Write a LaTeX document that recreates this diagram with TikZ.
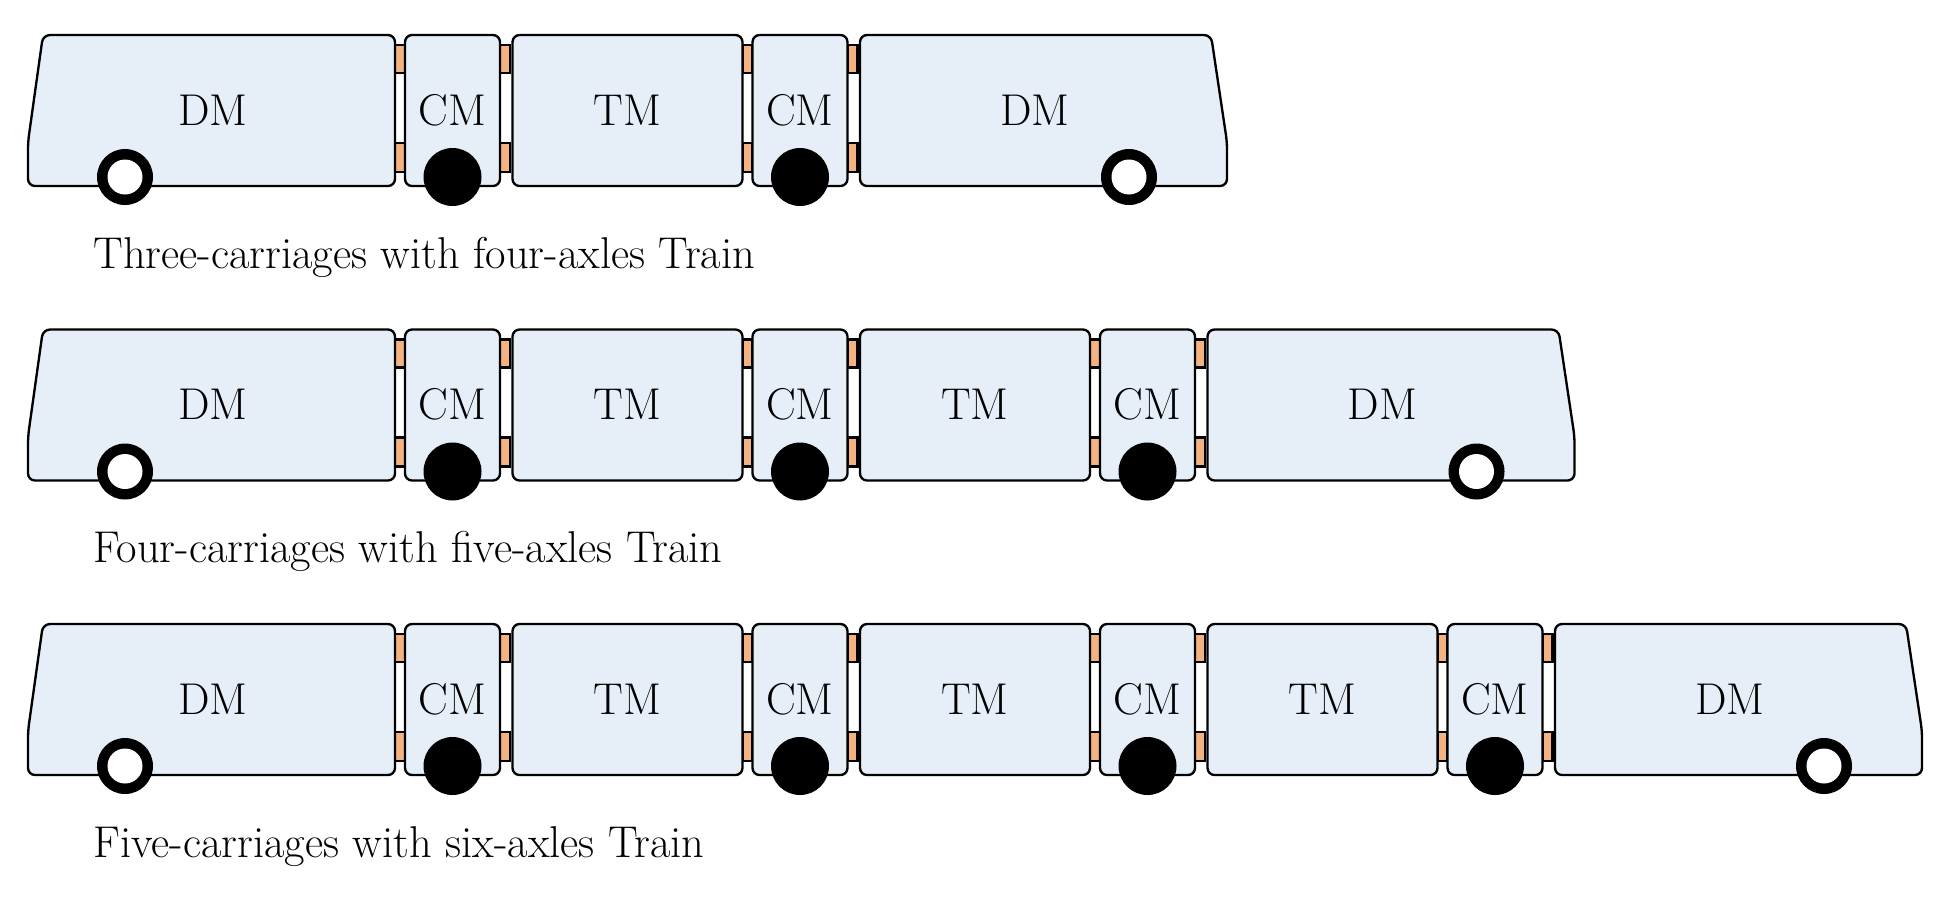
\documentclass[tikz,border=0pt]{standalone}
\usepackage{tikz}
\definecolor{carfill}{RGB}{230,238,247}
\definecolor{couplerfill}{RGB}{244,178,128}
\tikzset{
  car/.style={draw=black, line width=1pt, fill=carfill, rounded corners=3},
  coupler/.style={draw=black, line width=1pt, fill=couplerfill},
  label/.style={font=\fontsize{19}{22}\selectfont},
  caption/.style={font=\fontsize{19}{22}\selectfont, anchor=base west},
}
\begin{document}
\begin{tikzpicture}[x=0.015cm, y=-0.015cm]
 \useasboundingbox (0,0) rectangle (1948,905);
 \foreach \r/\k/\cap in {0/1/Three-carriages with four-axles Train,
                         1/2/Four-carriages with five-axles Train,
                         2/3/Five-carriages with six-axles Train} {
  \pgfmathsetmacro{\yo}{294.5*\r}
  \pgfmathsetmacro{\s}{512.5+347.5*\k}
  % couplers between cars
  \foreach \j in {0,...,\k} {
    \foreach \g in {395,500} {
      \draw[coupler] (\g+347.5*\j,\yo+45) rectangle (\g+347.5*\j+10,\yo+73);
      \draw[coupler] (\g+347.5*\j,\yo+143) rectangle (\g+347.5*\j+10,\yo+172);
    }
  }
  % head car
  \draw[car] (43,\yo+35) -- (395,\yo+35) -- (395,\yo+186) -- (28,\yo+186) -- (28,\yo+142) -- cycle;
  \node[label] (dmA\r) at (213,\yo+110) {DM};
  \fill (125,\yo+177) circle (28);
  \fill[white] (125,\yo+177) circle (17.5);
  % middle cars
  \foreach \j in {0,...,\k} {
    \draw[car] (405+347.5*\j,\yo+35) rectangle (500+347.5*\j,\yo+186);
    \node[label] (cm\r\j) at (452.5+347.5*\j,\yo+110) {CM};
    \fill (452.5+347.5*\j,\yo+177) circle (29);
  }
  \foreach \j in {1,...,\k} {
    \draw[car] (512.5+347.5*\j-347.5,\yo+35) rectangle (742.5+347.5*\j-347.5,\yo+186);
    \node[label] (tm\r\j) at (627.5+347.5*\j-347.5,\yo+110) {TM};
  }
  % tail car
  \draw[car] (\s,\yo+35) -- (\s+351,\yo+35) -- (\s+367,\yo+142) -- (\s+367,\yo+186) -- (\s,\yo+186) -- cycle;
  \node[label] (dmB\r) at (\s+175,\yo+110) {DM};
  \fill (\s+269,\yo+177) circle (28);
  \fill[white] (\s+269,\yo+177) circle (17.5);
  \node[caption] (cap\r) at (85,\yo+268) {\cap};
 }
\end{tikzpicture}
\end{document}
